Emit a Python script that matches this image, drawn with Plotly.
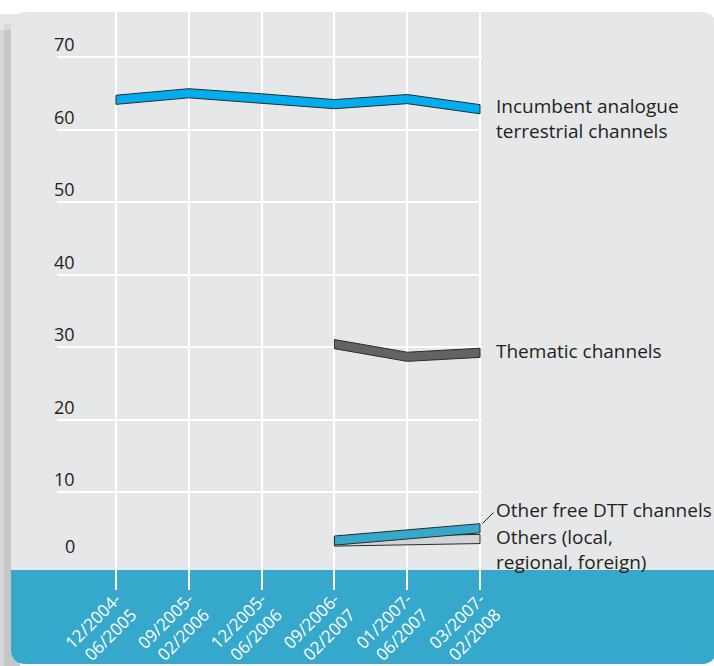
import plotly.graph_objects as go

# ---------------- data ----------------
periods = ["12/2004-<br>06/2005", "09/2005-<br>02/2006", "12/2005-<br>06/2006",
           "09/2006-<br>02/2007", "01/2007-<br>06/2007", "03/2007-<br>02/2008"]
incumbent = [64.1, 65.0, 64.3, 63.5, 64.2, 62.8]
thematic = [None, None, None, 30.4, 28.65, 29.2]
other_dtt = [None, None, None, 3.3, 4.15, 5.0]
others = [None, None, None, 3.17, 3.35, 3.52]
y_ticks = [0, 10, 20, 30, 40, 50, 60, 70]
y_tick_text = ["0", "10", "20", "30", "40", "50", "60", "70"]

series_labels = [
    "Incumbent analogue<br>terrestrial channels",
    "Thematic channels",
    "Other free DTT channels",
    "Others (local,<br>regional, foreign)",
]

# ---------------- geometry ----------------
W, H = 714, 666
L, R, T, B = 57, 482, 12, 590
x_range = [-0.81, 5.027]
y_range = [-3.517, 76.21]
HALF = 0.63  # half thickness of ribbons, in value units

TXT = "#231f20"
PANEL = "#e6e7e8"
BAND = "#36a8cc"
FONT = "Open Sans"


def px(x):
    return (x - L) / (R - L)


def py(y):
    return (B - y) / (B - T)


def ribbon(values):
    idx = [i for i, v in enumerate(values) if v is not None]
    vals = [values[i] for i in idx]
    xs = idx + idx[::-1] + [idx[0]]
    ys = [v + HALF for v in vals] + [v - HALF for v in vals[::-1]] + [vals[0] + HALF]
    return xs, ys


def rounded_path(x0, y0, x1, y1, r, round_top=True):
    pts = []
    if round_top:
        pts.append(f"M {px(x0 + r)},{py(y0)}")
        pts.append(f"L {px(x1 - r)},{py(y0)}")
        pts.append(f"Q {px(x1)},{py(y0)} {px(x1)},{py(y0 + r)}")
    else:
        pts.append(f"M {px(x0)},{py(y0)}")
        pts.append(f"L {px(x1)},{py(y0)}")
    pts.append(f"L {px(x1)},{py(y1 - r)}")
    pts.append(f"Q {px(x1)},{py(y1)} {px(x1 - r)},{py(y1)}")
    pts.append(f"L {px(x0 + r)},{py(y1)}")
    pts.append(f"Q {px(x0)},{py(y1)} {px(x0)},{py(y1 - r)}")
    if round_top:
        pts.append(f"L {px(x0)},{py(y0 + r)}")
        pts.append(f"Q {px(x0)},{py(y0)} {px(x0 + r)},{py(y0)}")
    pts.append("Z")
    return " ".join(pts)


fig = go.Figure()

styles = [
    (others, "#d1d3d4"),
    (other_dtt, "#35a8cc"),
    (thematic, "#626366"),
    (incumbent, "#00aeef"),
]
for vals, col in styles:
    xs, ys = ribbon(vals)
    fig.add_trace(go.Scatter(x=xs, y=ys, mode="lines", fill="toself",
                             fillcolor=col, line=dict(color="#2b2b2b", width=1),
                             hoverinfo="skip", showlegend=False))

shapes = []
# shadow
shapes.append(dict(type="rect", xref="paper", yref="paper", x0=px(0), x1=px(4), y0=py(30), y1=py(670),
                   fillcolor="#d7d8da", line=dict(width=0), layer="below"))
shapes.append(dict(type="rect", xref="paper", yref="paper", x0=px(4), x1=px(20), y0=py(24), y1=py(670),
                   fillcolor="#c5c6c8", line=dict(width=0), layer="below"))
shapes.append(dict(type="rect", xref="paper", yref="paper", x0=px(0), x1=px(20), y0=py(14), y1=py(30),
                   fillcolor="#dfe0e2", line=dict(width=0), layer="below", opacity=0.8))
# panel
shapes.append(dict(type="path", xref="paper", yref="paper",
                   path=rounded_path(11, 12, 716, 664, 15),
                   fillcolor=PANEL, line=dict(width=0), layer="below"))
# blue band
shapes.append(dict(type="path", xref="paper", yref="paper",
                   path=rounded_path(11, 570, 716, 664, 15, round_top=False),
                   fillcolor=BAND, line=dict(width=0), layer="below"))
# leader line to "Other free DTT channels"
shapes.append(dict(type="line", xref="paper", yref="paper",
                   x0=px(482.5), y0=py(523.5), x1=px(493.5), y1=py(512.5),
                   line=dict(color=TXT, width=1)))

annotations = []
for v, t in zip(y_ticks, y_tick_text):
    annotations.append(dict(x=-0.535, y=v, xref="x", yref="y", text=t, showarrow=False,
                            xanchor="right", yanchor="bottom",
                            yshift=(5 if v == 0 else -1),
                            font=dict(family=FONT, size=18, color=TXT)))

label_pos = [119, 351, 510, 549.5]
for text, ypix in zip(series_labels, label_pos):
    annotations.append(dict(x=px(494), y=py(ypix), xref="paper", yref="paper", text=text,
                            showarrow=False, xanchor="left", yanchor="middle", align="left",
                            font=dict(family=FONT, size=19, color=TXT)))

fig.update_layout(
    width=W, height=H,
    autosize=False,
    margin=dict(l=L, r=W - R, t=T, b=H - B, pad=0, autoexpand=False),
    paper_bgcolor="white",
    plot_bgcolor="rgba(0,0,0,0)",
    shapes=shapes,
    annotations=annotations,
    showlegend=False,
    xaxis=dict(range=x_range, tickmode="array", tickvals=list(range(len(periods))),
               ticktext=periods, tickangle=-45, showgrid=True, gridcolor="white", gridwidth=1.8,
               zeroline=False, showline=False, ticks="", automargin=False,
               ticklabelstandoff=-5,
               tickfont=dict(family=FONT, size=17, color="white")),
    yaxis=dict(range=y_range, tickmode="array", tickvals=y_ticks[1:], showticklabels=False,
               showgrid=True, gridcolor="white", gridwidth=1.8, zeroline=False, showline=False,
               ticks="", automargin=False),
)

fig.write_html(
    "out.html",
    config={"displayModeBar": False},
    post_script="document.documentElement.style.margin='0';document.body.style.margin='0';"
                "document.body.style.overflow='hidden';document.documentElement.style.overflow='hidden';",
)
